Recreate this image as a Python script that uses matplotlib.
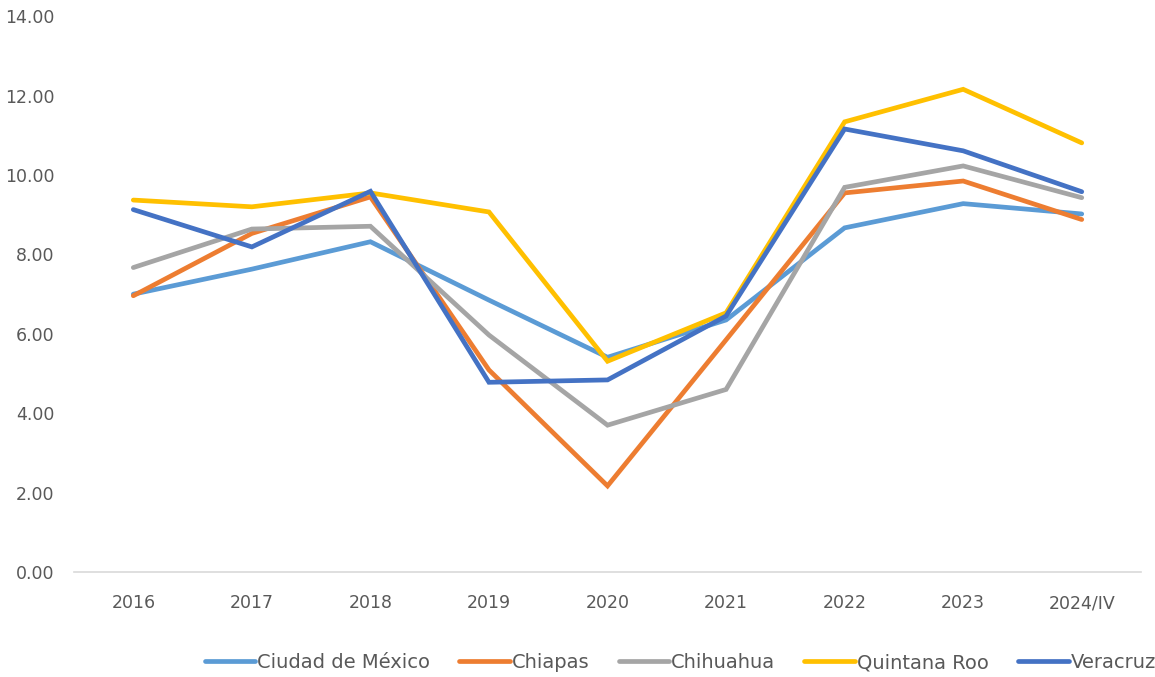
import matplotlib.pyplot as plt

plt.rcParams['font.family'] = ['DejaVu Sans']

# Datos
years = ['2016', '2017', '2018', '2019', '2020', '2021', '2022', '2023', '2024/IV']

cdmx = [7.00, 7.63, 8.32, 6.85, 5.41, 6.35, 8.67, 9.28, 9.02]
chiapas = [6.96, 8.53, 9.45, 5.09, 2.17, 5.85, 9.55, 9.85, 8.88]
chihuahua = [7.67, 8.64, 8.71, 5.97, 3.70, 4.60, 9.69, 10.23, 9.43]
quintana_roo = [9.37, 9.20, 9.55, 9.07, 5.31, 6.53, 11.34, 12.16, 10.81]
veracruz = [9.13, 8.19, 9.59, 4.78, 4.84, 6.45, 11.16, 10.61, 9.58]

series = [
    ('Ciudad de México', cdmx, '#5B9BD5'),
    ('Chiapas', chiapas, '#ED7D31'),
    ('Chihuahua', chihuahua, '#A5A5A5'),
    ('Quintana Roo', quintana_roo, '#FFC000'),
    ('Veracruz', veracruz, '#4472C4'),
]

text_color = '#595959'

fig = plt.figure(figsize=(11.55, 6.77), dpi=100)
ax = fig.add_axes([0.0641, 0.155, 0.9238, 0.821])

x = range(len(years))
for name, vals, color in series:
    ax.plot(x, vals, color=color, lw=3.4, label=name, solid_joinstyle='miter',
            solid_capstyle='round')

ax.set_xlim(-0.5, len(years) - 0.5)
ax.set_ylim(0, 14)
ax.set_yticks(range(0, 15, 2))
ax.set_yticklabels([f'{v:.2f}' for v in range(0, 15, 2)])
ax.set_xticks(list(x))
ax.set_xticklabels(years)

for side in ['top', 'right', 'left']:
    ax.spines[side].set_visible(False)
ax.spines['bottom'].set_color('#D9D9D9')
ax.spines['bottom'].set_linewidth(1.2)
ax.tick_params(axis='both', length=0, labelsize=12.5, colors=text_color)
ax.tick_params(axis='y', pad=14)
ax.tick_params(axis='x', pad=16)

leg = fig.legend(loc='center', bbox_to_anchor=(0.589, 0.021), ncol=5, frameon=False,
                 fontsize=14, handlelength=2.6, handletextpad=0.1, columnspacing=1.5)
for t in leg.get_texts():
    t.set_color(text_color)

plt.savefig('out.png', dpi=100)
